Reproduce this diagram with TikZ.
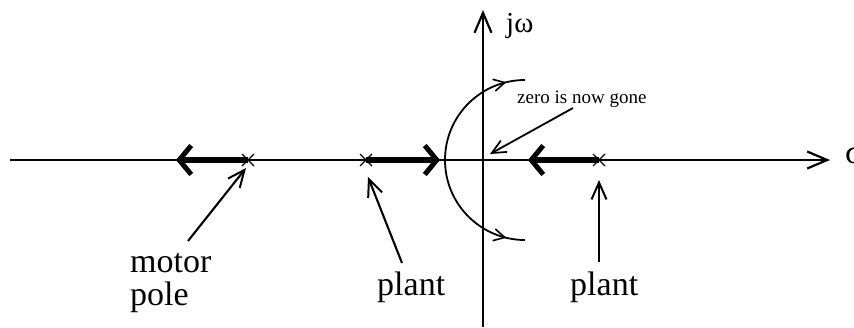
\documentclass[tikz,border=0pt]{standalone}
\usepackage{fontspec}
\setmainfont{Liberation Serif}
\usetikzlibrary{arrows.meta,decorations.markings}
\tikzset{
  axis/.style={line width=2.2pt,-{Straight Barb[length=20pt,width=17pt,line width=2.2pt]}},
  locus/.style={line width=5.5pt,-{Straight Barb[length=12pt,width=29pt,line width=5pt]}},
  pointer/.style={line width=2.1pt,-{Straight Barb[length=17pt,width=15pt,line width=2pt]}},
  zeroptr/.style={line width=1.8pt,-{Straight Barb[length=14pt,width=13pt,line width=1.7pt]}},
  arcpath/.style={line width=1.8pt,postaction={decorate},
    decoration={markings,mark=at position 0.85 with {\arrow{Straight Barb[length=11pt,width=12pt,line width=1.6pt]}}}},
  big/.style={inner sep=0pt,font=\fontsize{34}{36}\selectfont},
  small/.style={inner sep=0pt,font=\fontsize{19}{21}\selectfont},
  pole/.style={line width=1.2pt}
}
\begin{document}
\begin{tikzpicture}[x=1pt,y=-1pt]
\useasboundingbox (0,0) rectangle (854,327);
% coordinates
\coordinate (xl) at (10,160);
\coordinate (xr) at (830,160);
\coordinate (yb) at (483,327);
\coordinate (yt) at (483,10);
\coordinate (p1) at (248,160);
\coordinate (p2) at (366,160);
\coordinate (p3) at (599,160);
\coordinate (l1) at (176,160);
\coordinate (l2) at (440,160);
\coordinate (l3) at (528,160);
\coordinate (orig) at (490,154);
\coordinate (arcstart) at (445,160);
% axes
\draw[axis] (xl) -- (xr);
\draw[axis] (yb) -- (yt);
\node[big,anchor=base west] (sigma) at (845,163) {σ};
\node[big,font=\fontsize{29}{30}\selectfont,anchor=base west] (jw) at (506,32) {jω};
% root locus branches
\draw[locus] (p1) -- (l1);
\draw[locus] (p2) -- (l2);
\draw[locus] (p3) -- (l3);
% poles
\foreach \p in {p1,p2,p3}{
  \draw[pole] ([xshift=-6pt,yshift=-6pt]\p) -- ([xshift=6pt,yshift=6pt]\p);
  \draw[pole] ([xshift=-6pt,yshift=6pt]\p) -- ([xshift=6pt,yshift=-6pt]\p);
}
% breakaway arcs
\draw[arcpath] (arcstart) arc[start angle=180,end angle=90,radius=80pt];
\draw[arcpath] (arcstart) arc[start angle=180,end angle=270,radius=80pt];
% labels
\node[big,anchor=base west] (motor) at (130,272) {motor};
\node[big,anchor=base west] (polelbl) at (130,305) {pole};
\node[big,anchor=base west] (plant1) at (377,295) {plant};
\node[big,anchor=base west] (plant2) at (570,295) {plant};
\node[small,anchor=base west] (zero) at (517,103) {zero is now gone};
% pointers
\coordinate (t1) at (188,241);
\coordinate (t2) at (402,263);
\coordinate (t3) at (599,262);
\coordinate (t4) at (573,108);
\draw[pointer] (t1) -- (246,168);
\draw[pointer] (t2) -- (368,177);
\draw[pointer] (t3) -- (599,180);
\draw[zeroptr] (t4) -- (orig);
\end{tikzpicture}
\end{document}
